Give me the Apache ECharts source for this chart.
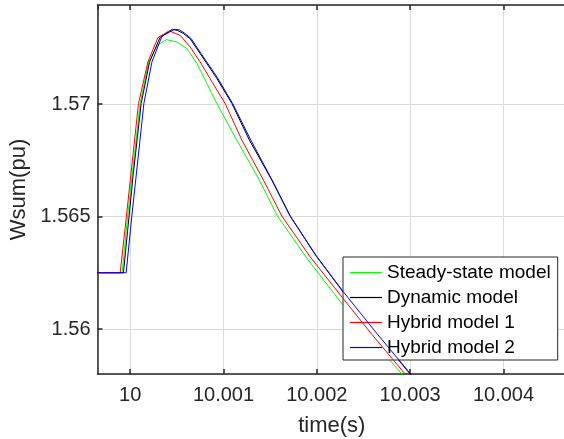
<!DOCTYPE html>
<html>
<head>
<meta charset="utf-8">
<script src="https://cdn.jsdelivr.net/npm/echarts@6/dist/echarts.min.js"></script>
<style>
html,body{margin:0;padding:0;background:#fff;}
#chart{width:564px;height:439px;}
</style>
</head>
<body>
<div id="chart"></div>
<script>
// ---- data (time in s, Wsum in pu) ----
var seriesNames = ['Steady-state model', 'Dynamic model', 'Hybrid model 1', 'Hybrid model 2'];
var seriesColors = ['#00ff00', '#000000', '#ff0000', '#0000ff'];

var steadyT = [9.99960, 9.999914, 9.999973, 10.000107, 10.000196, 10.000289, 10.000391, 10.000500, 10.000608, 10.000715, 10.000822, 10.000929, 10.001143, 10.001385, 10.001578, 10.001907, 10.002279, 10.002593, 10.002911, 10.003107];
var steadyW = [1.5625, 1.5625, 1.565022, 1.570022, 1.571832, 1.572609, 1.572862, 1.572755, 1.572462, 1.571797, 1.570910, 1.570022, 1.568394, 1.566619, 1.565022, 1.563070, 1.561074, 1.559521, 1.557999, 1.557081];

var dynamicT = [9.99960, 9.999928, 10.000032, 10.000118, 10.000207, 10.000321, 10.000453, 10.000504, 10.000568, 10.000643, 10.000750, 10.000921, 10.001090, 10.001278, 10.001518, 10.001714, 10.001993, 10.002279, 10.002636, 10.003000, 10.003161];
var dynamicW = [1.5625, 1.5625, 1.566841, 1.570022, 1.571855, 1.572964, 1.573319, 1.573274, 1.573141, 1.572897, 1.572240, 1.571189, 1.570022, 1.568394, 1.566619, 1.565022, 1.563247, 1.561664, 1.559818, 1.557999, 1.557209];

var hybrid1T = [9.99960, 9.999893, 9.999960, 10.000089, 10.000190, 10.000297, 10.000418, 10.000536, 10.000643, 10.000750, 10.000879, 10.001018, 10.001197, 10.001428, 10.001625, 10.001929, 10.002279, 10.002593, 10.002946, 10.003107];
var hybrid1W = [1.5625, 1.5625, 1.565022, 1.570022, 1.571868, 1.572950, 1.573252, 1.573052, 1.572533, 1.571868, 1.570967, 1.570022, 1.568394, 1.566619, 1.565022, 1.563203, 1.561371, 1.559742, 1.557999, 1.557300];

var hybrid2T = [9.99960, 9.999957, 10.000018, 10.000147, 10.000233, 10.000340, 10.000475, 10.000525, 10.000579, 10.000654, 10.000761, 10.000932, 10.001098, 10.001293, 10.001521, 10.001714, 10.001995, 10.002282, 10.002640, 10.003005, 10.003165];
var hybrid2W = [1.5625, 1.5625, 1.565022, 1.570022, 1.571868, 1.573008, 1.573319, 1.573296, 1.573163, 1.572906, 1.572232, 1.571189, 1.570022, 1.568394, 1.566619, 1.565022, 1.563247, 1.561664, 1.559818, 1.557999, 1.557209];

var xMin = 9.99965, xMax = 10.00467;
var yMin = 1.558, yMax = 1.5744;
var xTitle = 'time(s)';
var yTitle = 'Wsum(pu)';

function pairs(t, w) { return t.map(function (v, i) { return [v, w[i]]; }); }
var allData = [pairs(steadyT, steadyW), pairs(dynamicT, dynamicW), pairs(hybrid1T, hybrid1W), pairs(hybrid2T, hybrid2W)];

var FONT = '"Liberation Sans", Arial, Helvetica, sans-serif';
var AX = '#262626';

var chart = echarts.init(document.getElementById('chart'), null, {renderer: 'canvas'});
chart.setOption({
  animation: false,
  backgroundColor: '#ffffff',
  grid: {left: 97.5, top: 5, right: -2, bottom: 65, containLabel: false, outerBoundsMode: 'none'},
  legend: {
    data: seriesNames.map(function (n) { return {name: n, icon: 'rect'}; }),
    orient: 'vertical',
    left: 343, top: 257,
    backgroundColor: '#ffffff',
    borderColor: AX, borderWidth: 1,
    padding: [6, 7, 3, 7],
    itemGap: 6, itemWidth: 32, itemHeight: 1.2,
    selectedMode: false,
    textStyle: {fontFamily: FONT, fontSize: 19, color: '#000', lineHeight: 19}
  },
  xAxis: [{
    type: 'value', min: xMin, max: xMax, splitNumber: 5,
    name: xTitle, nameLocation: 'middle', nameGap: 41,
    nameTextStyle: {fontFamily: FONT, fontSize: 22, color: AX},
    axisLine: {show: true, onZero: false, lineStyle: {color: AX, width: 1.5}},
    axisTick: {show: true, inside: true, length: 5, lineStyle: {color: AX, width: 1.5}},
    axisLabel: {fontFamily: FONT, fontSize: 20, color: AX, margin: 11, showMinLabel: false, showMaxLabel: false},
    splitLine: {show: true, lineStyle: {color: '#dadada', width: 1}}
  }, {
    type: 'value', position: 'top', min: xMin, max: xMax, splitNumber: 5,
    axisLine: {show: true, onZero: false, lineStyle: {color: AX, width: 1.5}},
    axisTick: {show: true, inside: true, length: 5, lineStyle: {color: AX, width: 1.5}},
    axisLabel: {show: false},
    splitLine: {show: false}
  }],
  yAxis: {
    type: 'value', min: yMin, max: yMax, splitNumber: 3,
    name: yTitle, nameLocation: 'middle', nameGap: 54,
    nameTextStyle: {fontFamily: FONT, fontSize: 22, color: AX},
    axisLine: {show: true, onZero: false, lineStyle: {color: AX, width: 1.5}},
    axisTick: {show: true, inside: true, length: 5, lineStyle: {color: AX, width: 1.5}},
    axisLabel: {fontFamily: FONT, fontSize: 20, color: AX, margin: 7, showMinLabel: false, showMaxLabel: false},
    splitLine: {show: true, lineStyle: {color: '#dadada', width: 1}}
  },
  series: seriesNames.map(function (n, i) {
    return {
      name: n, type: 'line', data: allData[i], xAxisIndex: 0,
      symbol: 'none', showSymbol: false, clip: true,
      lineStyle: {color: seriesColors[i], width: 1},
      itemStyle: {color: seriesColors[i]},
      z: 2 + i
    };
  })
});
</script>
</body>
</html>
